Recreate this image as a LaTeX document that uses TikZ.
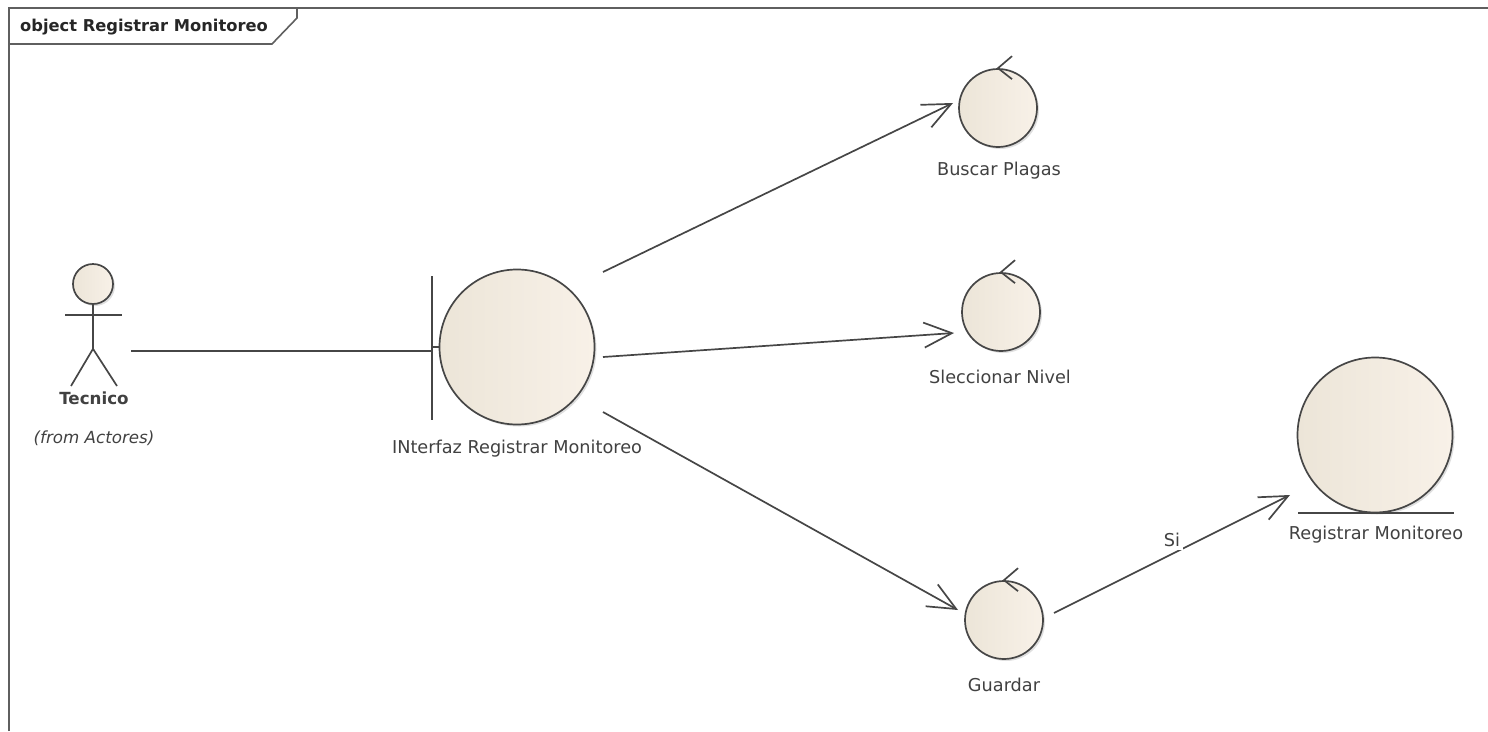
\documentclass[tikz,border=0pt]{standalone}
\usepackage{fontspec}
\setmainfont{DejaVu Sans}
\usetikzlibrary{arrows.meta,shadows}
\definecolor{framegray}{RGB}{95,95,95}
\definecolor{linegray}{RGB}{70,70,70}
\definecolor{textgray}{RGB}{65,65,65}
\definecolor{beigeleft}{RGB}{236,229,216}
\definecolor{beigemid}{RGB}{249,244,236}
\definecolor{beigeright}{RGB}{248,241,232}
\tikzset{
  ball/.style={
    circle,
    draw=linegray,
    line width=1.7pt,
    inner sep=0pt,
    left color=beigeleft,
    middle color=beigemid,
    right color=beigeright,
    drop shadow={shadow xshift=2pt,shadow yshift=-2pt,opacity=0.25}
  },
  ball-big/.style={ball, minimum size=155pt},
  ball-small/.style={ball, minimum size=78pt},
  ball-head/.style={ball, minimum size=40pt},
  label-text/.style={text=textgray, font=\fontsize{17.7}{20}\selectfont, inner sep=0pt},
  conn/.style={draw=linegray, line width=1.7pt},
  conn-open/.style={conn, -{Straight Barb[length=28pt,width=25pt,line width=1.7pt]}}
}
\newcommand{\controlmark}[1]{
  \draw[conn] ([shift={(14,-12)}]#1.north) -- (#1.north) -- ([shift={(14,11)}]#1.north);
}

\begin{document}
\begin{tikzpicture}[x=1pt,y=-1pt]
  \useasboundingbox (0,0) rectangle (1488,731);
  % frame and its tag
  \draw[framegray,line width=2pt] (9,731) -- (9,8) -- (1488,8);
  \draw[framegray,line width=1.6pt,fill=white] (9,8) -- (297,8) -- (297,18) -- (272,44) -- (9,44) -- cycle;
  \node[anchor=west,inner sep=0pt,text=black!85] (tag) at (20,27)
    {\fontsize{16.3}{18}\selectfont\bfseries object Registrar Monitoreo};
  % actor
  \node[ball-head] (tecnico) at (93,284) {};
  \draw[conn] (tecnico.south) -- ++(0,44) coordinate (hip);
  \draw[conn] (65,315) -- (122,315);
  \draw[conn] (71,386) -- (hip) -- (117,386);
  \node[label-text,font=\fontsize{16.7}{20}\selectfont\bfseries] (tecnicolabel) at (94,398) {Tecnico};
  \node[label-text,font=\fontsize{16.7}{20}\selectfont\itshape] (fromlabel) at (94,438) {(from Actores)};
  % boundary
  \node[ball-big] (iface) at (517,347) {};
  \draw[conn] (432,276) -- (432,420);
  \draw[conn] (iface.west) -- ++(-8,0);
  \node[label-text] (ifacelabel) at (517,449) {INterfaz Registrar Monitoreo};
  % controls
  \node[ball-small] (buscar) at (998,108) {};
  \controlmark{buscar}
  \node[label-text] (buscarlabel) at (999,171) {Buscar Plagas};
  \node[ball-small] (nivel) at (1001,312) {};
  \controlmark{nivel}
  \node[label-text] (nivellabel) at (1000,377) {Sleccionar Nivel};
  \node[ball-small] (guardar) at (1004,620) {};
  \controlmark{guardar}
  \node[label-text] (guardarlabel) at (1004,685) {Guardar};
  % entity
  \node[ball-big] (registro) at (1375,435) {};
  \draw[conn] (1298,513) -- (1454,513);
  \node[label-text] (registrolabel) at (1376,535) {Registrar Monitoreo};
  % connectors
  \draw[conn] ([shift={(38,67)}]tecnico.center) -- ([shift={(-85,4)}]iface.center);
  \draw[conn-open] ([shift={(86,-75)}]iface.center) -- ([shift={(-45,-5)}]buscar.center);
  \draw[conn-open] ([shift={(86,10)}]iface.center) -- ([shift={(-47,21)}]nivel.center);
  \draw[conn-open] ([shift={(86,65)}]iface.center) -- ([shift={(-46,-10)}]guardar.center);
  \draw[conn-open] ([shift={(50,-7)}]guardar.center) -- ([shift={(-85,60)}]registro.center);
  \node[label-text,fill=white,inner sep=3pt] (silabel) at (1172,540) {Si};
\end{tikzpicture}
\end{document}
